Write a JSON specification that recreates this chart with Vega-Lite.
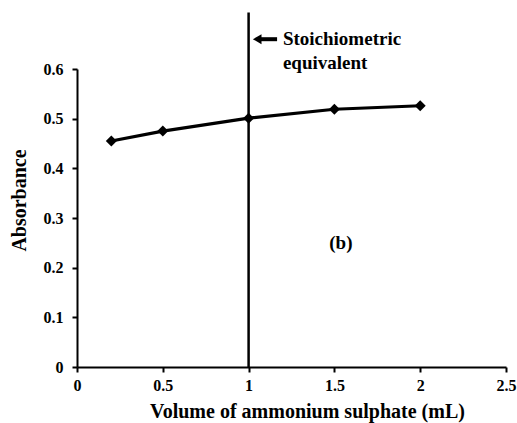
{
  "$schema": "https://vega.github.io/schema/vega-lite/v6.json",
  "width": 429,
  "height": 298,
  "autosize": {"type": "none"},
  "padding": {"left": 77, "top": 69, "right": 11, "bottom": 56},
  "background": "white",
  "config": {
    "view": {"stroke": null},
    "font": "Liberation Serif",
    "axis": {
      "grid": false,
      "domainColor": "black",
      "domainWidth": 2,
      "tickColor": "black",
      "tickWidth": 2,
      "tickSize": 5,
      "labelFont": "Liberation Serif",
      "labelFontWeight": "bold",
      "labelFontSize": 16,
      "labelColor": "black",
      "titleFont": "Liberation Serif",
      "titleFontWeight": "bold",
      "titleFontSize": 20,
      "titleColor": "black"
    }
  },
  "datasets": {
    "pts": [
      {"volume": 0.2, "absorbance": 0.455},
      {"volume": 0.5, "absorbance": 0.475},
      {"volume": 1.0, "absorbance": 0.501},
      {"volume": 1.5, "absorbance": 0.519},
      {"volume": 2.0, "absorbance": 0.526}
    ],
    "vline": [{"volume": 1.0, "y0": 0, "y1": 0.714}],
    "arrow": [{"x0": 1.06, "x1": 1.166, "y": 0.66}],
    "head": [{"x": 1.05, "y": 0.66}],
    "notes": [
      {"x": 1.2, "y": 0.66, "label": "Stoichiometric"},
      {"x": 1.2, "y": 0.613, "label": "equivalent"},
      {"x": 1.47, "y": 0.25, "label": "(b)"}
    ]
  },
  "layer": [
    {
      "data": {"name": "vline"},
      "mark": {"type": "rule", "color": "black", "strokeWidth": 2.5},
      "encoding": {
        "x": {"field": "volume", "type": "quantitative"},
        "y": {"field": "y0", "type": "quantitative"},
        "y2": {"field": "y1"}
      }
    },
    {
      "data": {"name": "pts"},
      "mark": {"type": "line", "color": "black", "strokeWidth": 3.2},
      "encoding": {
        "x": {"field": "volume", "type": "quantitative",
          "scale": {"domain": [0, 2.5], "nice": false},
          "axis": {"values": [0, 0.5, 1, 1.5, 2, 2.5], "format": "~g", "labelPadding": 5, "title": "Volume of ammonium sulphate (mL)", "titlePadding": 8, "titleX": 230, "labelFlush": false}},
        "y": {"field": "absorbance", "type": "quantitative",
          "scale": {"domain": [0, 0.6], "nice": false},
          "axis": {"values": [0, 0.1, 0.2, 0.3, 0.4, 0.5, 0.6], "format": "~g", "labelPadding": 9, "title": "Absorbance", "titlePadding": 14, "titleY": 131, "labelFlush": false}}
      }
    },
    {
      "data": {"name": "pts"},
      "mark": {"type": "point", "shape": "diamond", "filled": true, "color": "black", "size": 120, "opacity": 1},
      "encoding": {
        "x": {"field": "volume", "type": "quantitative"},
        "y": {"field": "absorbance", "type": "quantitative"}
      }
    },
    {
      "data": {"name": "arrow"},
      "mark": {"type": "rule", "color": "black", "strokeWidth": 4},
      "encoding": {
        "x": {"field": "x0", "type": "quantitative"},
        "x2": {"field": "x1"},
        "y": {"field": "y", "type": "quantitative"}
      }
    },
    {
      "data": {"name": "head"},
      "mark": {"type": "point", "shape": "triangle-left", "filled": true, "color": "black", "size": 100, "opacity": 1},
      "encoding": {
        "x": {"field": "x", "type": "quantitative"},
        "y": {"field": "y", "type": "quantitative"}
      }
    },
    {
      "data": {"name": "notes"},
      "mark": {"type": "text", "align": "left", "baseline": "middle", "font": "Liberation Serif", "fontWeight": "bold", "fontSize": 19, "color": "black"},
      "encoding": {
        "x": {"field": "x", "type": "quantitative"},
        "y": {"field": "y", "type": "quantitative"},
        "text": {"field": "label"}
      }
    }
  ]
}
